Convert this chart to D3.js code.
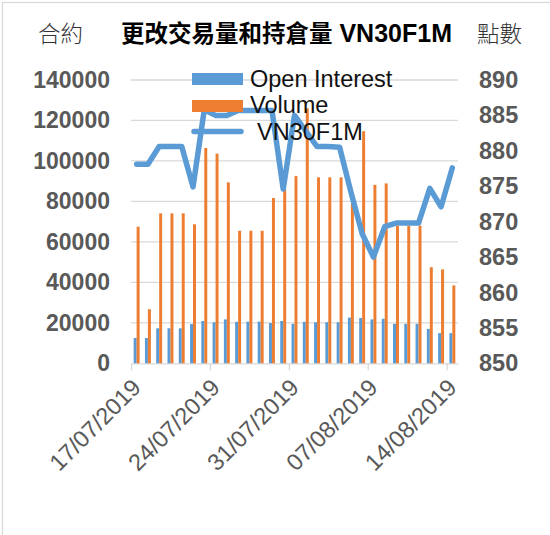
<!DOCTYPE html>
<html>
<head>
<meta charset="utf-8">
<script src="https://cdn.jsdelivr.net/npm/d3@7"></script>
<style>
  html, body { margin: 0; padding: 0; background: #fff; }
  svg { display: block; }
</style>
</head>
<body>
<svg id="chart" width="550" height="535"></svg>
<script>
const dates = [
  "17/07/2019","18/07/2019","19/07/2019","20/07/2019","21/07/2019","22/07/2019","23/07/2019",
  "24/07/2019","25/07/2019","26/07/2019","27/07/2019","28/07/2019","29/07/2019","30/07/2019",
  "31/07/2019","01/08/2019","02/08/2019","03/08/2019","04/08/2019","05/08/2019","06/08/2019",
  "07/08/2019","08/08/2019","09/08/2019","10/08/2019","11/08/2019","12/08/2019","13/08/2019",
  "14/08/2019"
];
const tickLabels = ["17/07/2019","24/07/2019","31/07/2019","07/08/2019","14/08/2019"];
const openInterest = [12500,12500,17300,17300,17300,19400,20900,20300,21700,20500,20600,20600,19900,20900,
  19500,20500,20300,20300,20300,22600,22400,21700,22000,19500,19500,19500,17000,14900,14900];
const volume = [67500,26700,74100,74100,74100,68700,106400,103600,89400,65500,65500,65500,81700,86000,
  92500,126000,91900,91900,91900,79000,114700,88200,88900,68000,68000,68000,47500,46400,38500];
const vn30f1m = [878.1,878.1,880.6,880.6,880.6,874.9,885.8,885.0,885.0,885.7,885.7,885.7,885.7,874.6,
  885.0,882.8,880.6,880.6,880.5,874.2,868.3,865.0,869.3,869.8,869.8,869.8,874.7,872.1,877.6];
const leftTicks = [0,20000,40000,60000,80000,100000,120000,140000];
const rightTicks = [850,855,860,865,870,875,880,885,890];
const seriesNames = ["Open Interest","Volume","VN30F1M"];
const titleCJK = "更改交易量和持倉量";
const titleLatin = " VN30F1M";
const leftTitle = "合約";
const rightTitle = "點數";

const BLUE = "#5b9bd5", ORANGE = "#ed7d31", GRID = "#d9d9d9", LABEL = "#595959";
const LATIN = "'Liberation Sans', Arial, 'Noto Sans CJK TC', sans-serif";

const svg = d3.select("#chart");
const plotL = 131, plotR = 458, plotT = 80, plotB = 363.3;

// frame
svg.append("rect").attr("x", 2.5).attr("y", 2.5).attr("width", 600).attr("height", 600)
  .attr("fill", "#fff").attr("stroke", GRID).attr("stroke-width", 1.3);

const x = d3.scaleBand().domain(dates).range([plotL, plotR]).paddingInner(0).paddingOuter(0);
const xSub = d3.scaleBand().domain(["oi","vol"]).range([0, x.bandwidth()]).paddingInner(0).paddingOuter(0.9);
const xi = d3.scaleLinear().domain([0, dates.length]).range([plotL, plotR]);
const yL = d3.scaleLinear().domain([0, 140000]).range([plotB, plotT]);
const yR = d3.scaleLinear().domain([850, 890]).range([plotB, plotT]);

// gridlines
svg.append("g").selectAll("line").data(leftTicks.slice(1)).join("line")
  .attr("x1", plotL).attr("x2", plotR)
  .attr("y1", d => yL(d)).attr("y2", d => yL(d))
  .attr("stroke", GRID).attr("stroke-width", 1.3);

// x axis
const xAxis = svg.append("g").attr("transform", `translate(0,${plotB})`)
  .call(d3.axisBottom(xi).tickValues(tickLabels.map(t => dates.indexOf(t)))
    .tickFormat(i => dates[i]).tickSize(7).tickSizeOuter(0));
xAxis.select(".domain").attr("stroke", GRID).attr("stroke-width", 1.3);
xAxis.selectAll(".tick line").attr("stroke", GRID).attr("stroke-width", 1.3);
xAxis.selectAll(".tick text")
  .attr("font-family", LATIN).attr("font-size", 23.5).attr("fill", LABEL)
  .attr("text-anchor", "end")
  .attr("transform", "translate(5,20) rotate(-45)")
  .attr("x", 0).attr("y", 0).attr("dy", "0.35em");

// left axis
const yAxisL = svg.append("g").attr("transform", `translate(${plotL},0)`)
  .call(d3.axisLeft(yL).tickValues(leftTicks).tickFormat(d3.format("d")).tickSize(0).tickPadding(21));
yAxisL.select(".domain").remove();
yAxisL.selectAll("text").attr("font-family", LATIN).attr("font-size", 23)
  .attr("font-weight", "bold").attr("fill", LABEL);

// right axis
const yAxisR = svg.append("g").attr("transform", `translate(${plotR},0)`)
  .call(d3.axisRight(yR).tickValues(rightTicks).tickFormat(d3.format("d")).tickSize(0).tickPadding(21));
yAxisR.select(".domain").remove();
yAxisR.selectAll("text").attr("font-family", LATIN).attr("font-size", 23.5)
  .attr("font-weight", "bold").attr("fill", LABEL);

// bars
const bars = svg.append("g");
bars.selectAll("rect.oi").data(dates).join("rect").attr("class", "oi")
  .attr("x", (d) => x(d) + xSub("oi")).attr("width", xSub.bandwidth())
  .attr("y", (d, i) => yL(openInterest[i])).attr("height", (d, i) => plotB - yL(openInterest[i]))
  .attr("fill", BLUE);
bars.selectAll("rect.vol").data(dates).join("rect").attr("class", "vol")
  .attr("x", (d) => x(d) + xSub("vol")).attr("width", xSub.bandwidth())
  .attr("y", (d, i) => yL(volume[i])).attr("height", (d, i) => plotB - yL(volume[i]))
  .attr("fill", ORANGE);

// line
const line = d3.line().x((d, i) => x(dates[i]) + x.bandwidth() / 2).y(d => yR(d));
svg.append("path").datum(vn30f1m).attr("d", line)
  .attr("fill", "none").attr("stroke", BLUE).attr("stroke-width", 5.5)
  .attr("stroke-linejoin", "round").attr("stroke-linecap", "round");

// legend
const lg = svg.append("g");
lg.append("rect").attr("x", 192).attr("y", 73).attr("width", 51).attr("height", 12).attr("fill", BLUE);
lg.append("rect").attr("x", 192).attr("y", 100).attr("width", 51).attr("height", 12).attr("fill", ORANGE);
lg.append("line").attr("x1", 194).attr("x2", 241).attr("y1", 131.5).attr("y2", 131.5)
  .attr("stroke", BLUE).attr("stroke-width", 5.5).attr("stroke-linecap", "round");
const legendPos = [[250, 87], [250, 113], [257, 140]];
lg.selectAll("text").data(seriesNames).join("text")
  .attr("x", (d, i) => legendPos[i][0]).attr("y", (d, i) => legendPos[i][1])
  .attr("font-family", LATIN).attr("font-size", 23.5).attr("fill", "#111")
  .text(d => d);

// titles
svg.append("text").attr("x", 38).attr("y", 42)
  .attr("font-family", "'Noto Sans CJK TC', sans-serif").attr("font-size", 22.5)
  .attr("font-weight", 300).attr("fill", "#333")
  .text(leftTitle);
svg.append("text").attr("x", 477).attr("y", 42)
  .attr("font-family", "'Noto Sans CJK TC', sans-serif").attr("font-size", 22.5)
  .attr("font-weight", 300).attr("fill", "#333")
  .text(rightTitle);
const title = svg.append("text").attr("x", 121).attr("y", 42)
  .attr("font-family", LATIN).attr("font-weight", "bold").attr("fill", "#000");
title.append("tspan").attr("font-size", 23.5).text(titleCJK);
title.append("tspan").attr("font-size", 25).text(titleLatin);
</script>
</body>
</html>
